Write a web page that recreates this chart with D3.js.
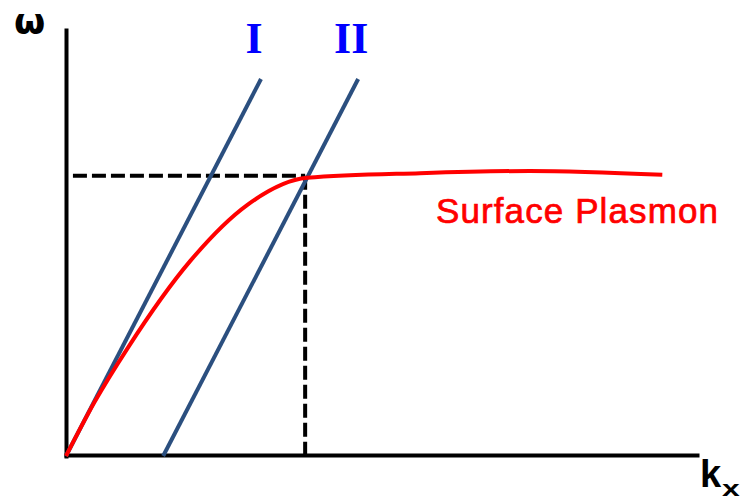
<!doctype html>
<html>
<head>
    <style>
        body {
            margin: 0;
            background: #fff;
        }

        svg {
            display: block;
        }

        .axis path {
            stroke: #000;
            stroke-width: 4;
            stroke-linecap: square;
        }

        .light {
            fill: none;
            stroke: #2b4f7f;
            stroke-width: 4;
        }

        .plasmon {
            fill: none;
            stroke: #ff0000;
            stroke-width: 4;
        }

        .guide {
            fill: none;
            stroke: #000;
            stroke-width: 4;
            stroke-dasharray: 14 5;
        }

        text.sym {
            font-family: 'Liberation Sans', Arial, sans-serif;
            font-weight: 700;
            fill: #000;
        }

        text.omega {
            font-family: 'DejaVu Sans', sans-serif;
            font-weight: 700;
            font-size: 36px;
            fill: #000;
        }

        text.roman {
            font-family: 'Liberation Serif', 'Times New Roman', serif;
            font-weight: 700;
            font-size: 44px;
            fill: #0000ff;
        }

        text.label {
            font-family: 'Liberation Sans', Arial, sans-serif;
            font-size: 35px;
            letter-spacing: 1.1px;
            fill: #ff0000;
            stroke: #ff0000;
            stroke-width: 0.7;
        }
    </style>
    <script src="https://d3js.org/d3.v7.min.js"></script>
</head>
<body>
<svg width="747" height="502"></svg>
<script>
    // surface plasmon dispersion (arbitrary units 0..100)
    const spK     = [0, 4.5, 9.8, 19.7, 28.7, 38.2, 56.1, 73.5, 94.5]
    const spOmega = [0, 12.6, 25.4, 45.8, 58.9, 65.3, 66.4, 66.9, 66.0]

    // light lines I and II: [start, end] points
    const lineNames = ['I', 'II']
    const lineK     = [[0, 30.9], [15.4, 46.3]]
    const lineOmega = [[0, 88.5], [0, 88.5]]

    // matching point (dashed guides)
    const guideK = [1.1, 37.9]
    const guideOmega = 65.8

    const svg = d3.select('svg')

    const x = d3.scaleLinear().domain([0, 100]).range([66, 697])
    const y = d3.scaleLinear().domain([0, 100]).range([456, 30])

    // axes without ticks
    svg.append('g')
        .attr('class', 'axis')
        .attr('transform', `translate(0, ${y(0) - 1})`)
        .call(d3.axisBottom(x).ticks(0).tickSizeOuter(0))

    svg.append('g')
        .attr('class', 'axis')
        .attr('transform', `translate(${x(0)}, 0)`)
        .call(d3.axisLeft(y).ticks(0).tickSizeOuter(0))

    // dashed guides
    svg.append('path')
        .attr('class', 'guide')
        .attr('d', d3.line()([[x(guideK[0]), y(guideOmega)], [x(guideK[1]), y(guideOmega)]]))

    svg.append('path')
        .attr('class', 'guide')
        .attr('d', d3.line()([[x(guideK[1]), y(guideOmega)], [x(guideK[1]), y(0)]]))

    // light lines
    const lightLine = d3.line()
        .x(d => x(d[0]))
        .y(d => y(d[1]))

    lineNames.forEach((name, i) => {
        svg.append('path')
            .attr('class', 'light')
            .attr('d', lightLine(d3.zip(lineK[i], lineOmega[i])))

        svg.append('text')
            .attr('class', 'roman')
            .attr('x', x(lineK[i][1]) - 7)
            .attr('y', 53)
            .attr('text-anchor', 'middle')
            .text(name)
    })

    // surface plasmon curve
    const spLine = d3.line()
        .x(d => x(d[0]))
        .y(d => y(d[1]))
        .curve(d3.curveMonotoneX)

    svg.append('path')
        .attr('class', 'plasmon')
        .attr('d', spLine(d3.zip(spK, spOmega)))

    svg.append('text')
        .attr('class', 'label')
        .attr('x', 436)
        .attr('y', 223)
        .text('Surface Plasmon')

    // axis symbols
    svg.append('text')
        .attr('class', 'omega')
        .attr('x', 14)
        .attr('y', 34)
        .text('ω')

    svg.append('text')
        .attr('class', 'sym')
        .attr('x', 700)
        .attr('y', 487)
        .style('font-size', '38px')
        .text('k')

    svg.append('text')
        .attr('class', 'sym')
        .attr('transform', 'translate(722, 496) scale(1.45, 1)')
        .style('font-size', '22px')
        .text('x')
</script>
</body>
</html>
